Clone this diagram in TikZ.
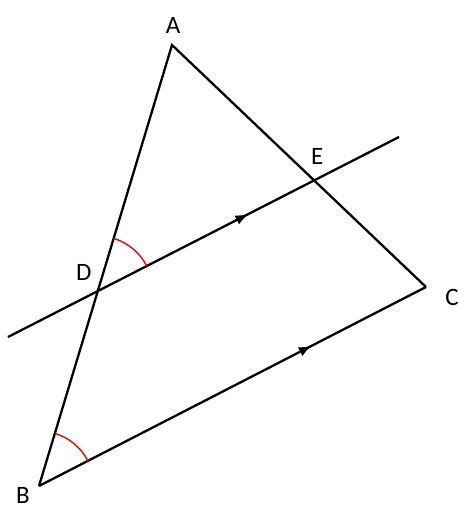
\documentclass[tikz,border=0pt]{standalone}
\usepackage{fontspec}
\setmainfont{Carlito}
\usetikzlibrary{arrows.meta, decorations.markings}

\begin{document}
\begin{tikzpicture}[x=1pt, y=1pt, line width=2.3pt,
  lbl/.style={font=\fontsize{25}{29}\selectfont},
  midarrow/.style={postaction={decorate},
    decoration={markings, mark=at position #1 with {\arrow{Latex[length=13pt,width=10pt]}}}},
  angarc/.style={red, line width=1.4pt}]
\useasboundingbox (0,0) rectangle (474,514);

% Define points
\path (172,469) coordinate (A)
      (39,28) coordinate (B)
      (426,227) coordinate (C)
      (8,177) coordinate (ll)
      (399,377) coordinate (lr)
      (intersection of A--B and ll--lr) coordinate (D)
      (intersection of A--C and ll--lr) coordinate (E)
;

% Labels
\path (A) +(1,20) node[lbl] (lA) {A}
      (B) +(-16,-9) node[lbl] (lB) {B}
      (C) +(26,-10) node[lbl] (lC) {C}
      (D) +(-14,19) node[lbl] (lD) {D}
      (E) +(3,24) node[lbl] (lE) {E}
;

% Triangle and parallel
\draw (B) -- (A) -- (C);
\draw[midarrow=0.705] (B) -- (C);
\draw[midarrow=0.615] (ll) -- (lr);

% Angles
\draw[angarc] (D) +(27:55) arc[start angle=27, end angle=73, radius=55];
\draw[angarc] (B) +(27:55) arc[start angle=27, end angle=73, radius=55];

\end{tikzpicture}
\end{document}
